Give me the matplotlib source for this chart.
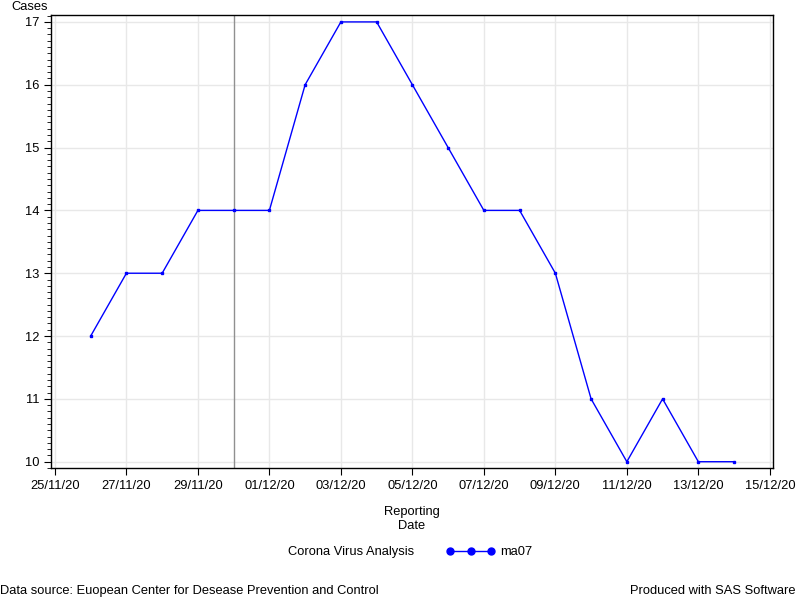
import pandas as pd
import matplotlib
matplotlib.use("Agg")
import matplotlib.pyplot as plt
import matplotlib.dates as mdates
from matplotlib.lines import Line2D

plt.rcParams['font.family'] = ['Liberation Sans', 'DejaVu Sans']

dates = pd.date_range("2020-11-26", "2020-12-14", freq="D")
ma07 = [12, 13, 13, 14, 14, 14, 16, 17, 17, 16, 15, 14, 14, 13, 11, 10, 11, 10, 10]
ref_date = pd.Timestamp("2020-11-30")

fs = 9.3

fig = plt.figure(figsize=(8, 6), dpi=100)
ax = fig.add_axes([0.064, 0.22, 0.902, 0.755])

ax.plot(dates, ma07, color="#0000ff", lw=1, marker="s", ms=1.8, zorder=3)
ax.axvline(ref_date, color="#909090", lw=1, zorder=2)

ax.set_xlim(pd.Timestamp("2020-11-25") - pd.Timedelta(hours=2.5),
            pd.Timestamp("2020-12-15") + pd.Timedelta(hours=2))
ax.set_ylim(9.9, 17.11)

ax.xaxis.set_major_locator(mdates.DayLocator(bymonthday=[1, 3, 5, 7, 9, 11, 13, 15, 25, 27, 29]))
ax.xaxis.set_major_formatter(mdates.DateFormatter("%d/%m/%y"))
ax.yaxis.set_major_locator(plt.MultipleLocator(1))
ax.yaxis.set_minor_locator(plt.MultipleLocator(0.1))

ax.grid(True, which="major", color="#e8e8e8", lw=1, zorder=0)
ax.tick_params(axis="both", which="major", labelsize=fs, length=5, color="black")
ax.tick_params(axis="y", which="minor", length=3)
for s in ax.spines.values():
    s.set_linewidth(1)

ax.set_xlabel("Reporting\nDate", fontsize=fs, labelpad=10, linespacing=1.3)
ax.text(-0.005, 1.005, "Cases", transform=ax.transAxes, ha="right", va="bottom", fontsize=fs)

fig.text(0.36, 0.08, "Corona Virus Analysis", fontsize=fs, va="center")
h = Line2D([], [], color="#0000ff", lw=1, marker="o", ms=5)
fig.legend(handles=[h], labels=["ma07"], loc="center left", bbox_to_anchor=(0.543, 0.08),
           frameon=False, fontsize=fs, handlelength=3.8, numpoints=3, handletextpad=0.4)

fig.text(0.0, 0.015, "Data source: Euopean Center for Desease Prevention and Control",
         fontsize=fs, va="center", ha="left")
fig.text(0.995, 0.015, "Produced with SAS Software", fontsize=fs, va="center", ha="right")

fig.savefig("out.png", dpi=100)
